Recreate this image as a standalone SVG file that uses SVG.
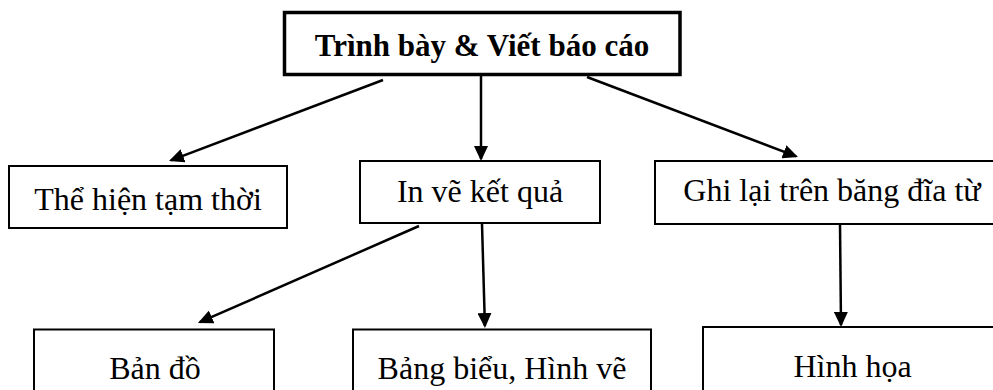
<svg xmlns="http://www.w3.org/2000/svg" width="993" height="390" viewBox="0 0 993 390">
  <style>
    .box { fill: #ffffff; stroke: #000000; stroke-width: 2; }
    .main { fill: #ffffff; stroke: #000000; stroke-width: 3.5; }
    .lbl { font-family: "Liberation Serif", "Times New Roman", serif; font-size: 32px; fill: #000000; text-anchor: middle; }
    .title { font-weight: bold; font-size: 31px; }
    .conn { stroke: #000000; stroke-width: 2.5; fill: none; marker-end: url(#head); }
  </style>
  <defs>
    <marker id="head" markerUnits="userSpaceOnUse" markerWidth="15" markerHeight="14" refX="13" refY="7" orient="auto">
      <path d="M0,0 L15,7 L0,14 Z" fill="#000000"/>
    </marker>
  </defs>
  <rect width="993" height="390" fill="#ffffff"/>

  <g id="report">
    <rect class="main" x="284.5" y="12.5" width="395.5" height="62"/>
    <text class="lbl title" x="482" y="56">Trình bày &amp; Viết báo cáo</text>
  </g>
  <g id="temporary">
    <rect class="box" x="9" y="166" width="278" height="62"/>
    <text class="lbl" x="148" y="210">Thể hiện tạm thời</text>
  </g>
  <g id="print">
    <rect class="box" x="360" y="161" width="240" height="62"/>
    <text class="lbl" x="480" y="202">In vẽ kết quả</text>
  </g>
  <g id="record">
    <rect class="box" x="655" y="161" width="360" height="63"/>
    <text class="lbl" x="832" y="201">Ghi lại trên băng đĩa từ</text>
  </g>
  <g id="map">
    <rect class="box" x="34" y="329.5" width="240" height="80"/>
    <text class="lbl" x="155" y="379">Bản đồ</text>
  </g>
  <g id="tables">
    <rect class="box" x="353" y="329.5" width="298" height="80"/>
    <text class="lbl" x="502" y="379">Bảng biểu, Hình vẽ</text>
  </g>
  <g id="graphics">
    <rect class="box" x="703" y="327" width="320" height="80"/>
    <text class="lbl" x="852.5" y="377">Hình họa</text>
  </g>

  <g id="connectors">
    <line class="conn" x1="383" y1="80" x2="170.9" y2="160.3"/>
    <line class="conn" x1="481" y1="76" x2="481" y2="159"/>
    <line class="conn" x1="587" y1="77" x2="796.1" y2="156.3"/>
    <line class="conn" x1="419" y1="226" x2="199.8" y2="322.2"/>
    <line class="conn" x1="482" y1="224" x2="484.9" y2="326"/>
    <line class="conn" x1="840" y1="224" x2="841" y2="325"/>
  </g>
</svg>
